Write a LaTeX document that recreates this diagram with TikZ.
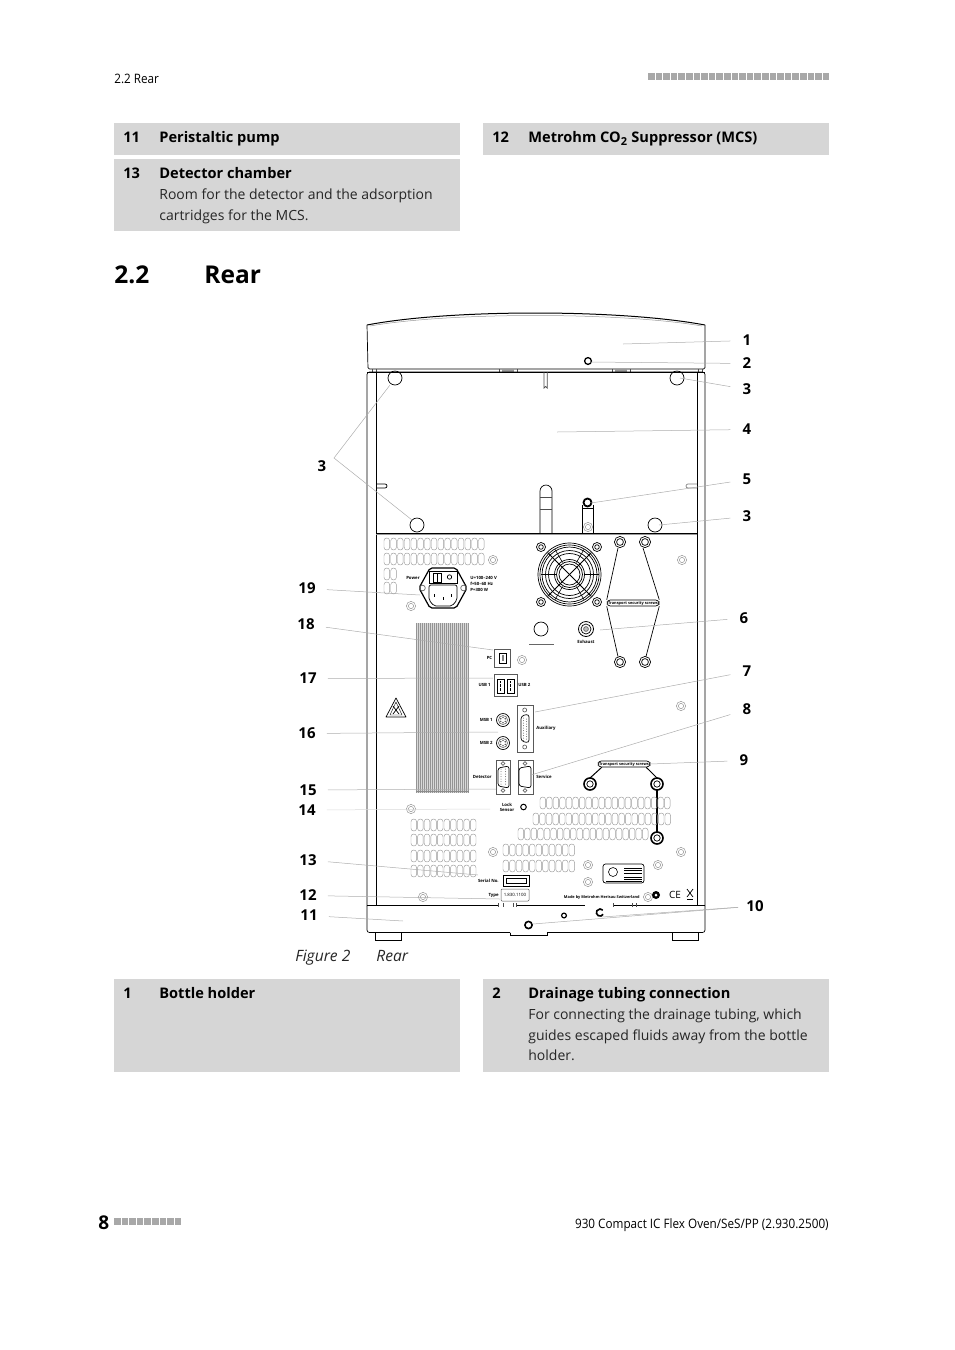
\documentclass[tikz,border=0pt]{standalone}
\usepackage{fontspec}
\setmainfont{Open Sans}
\newfontfamily\narrowfont[FakeStretch=0.9]{Open Sans}
\definecolor{boxgray}{HTML}{D6D6D6}
\definecolor{squaregray}{HTML}{A8A8A8}
\newcommand{\slotrow}[4]{%
    \foreach \i in {1,...,#3}
        \draw[slot] ({#1+(\i-1)*#4},#2) rectangle +(5.6,12);
}
\newcommand{\screwgray}[2]{%
    \draw[graypart] (#1,#2) circle (4.6);
    \draw[graypart] (#1,#2) circle (2.6);
}
\newcommand{\screwdark}[2]{%
    \draw (#1,#2) circle (5.6);
    \draw (#1,#2) circle (3.4);
}
\tikzset{
    body/.style={line width=0.7pt},
    slot/.style={draw=black!40, line width=0.45pt, rounded corners=2.7pt},
    graypart/.style={draw=black!40, line width=0.5pt},
    leader/.style={draw=black!32, line width=0.5pt},
    calloutnum/.style={font=\bfseries\fontsize{15}{18}\selectfont, inner xsep=12pt, inner ysep=1pt},
    boxnum/.style={anchor=base west, inner sep=0pt, font=\bfseries\fontsize{14.6}{18}\selectfont},
    boxtitle/.style={anchor=base west, inner sep=0pt, font=\bfseries\fontsize{14.6}{18}\selectfont},
    boxtext/.style={anchor=base west, inner sep=0pt, font=\fontsize{14}{18}\selectfont, text=black!85},
    tinylabel/.style={inner sep=0pt, font=\bfseries\fontsize{4.3}{5.2}\selectfont},
    pill/.style={draw, line width=0.7pt, rounded corners=3pt, fill=white, inner xsep=1pt, inner ysep=1pt, font=\bfseries\fontsize{3.9}{5.2}\selectfont}
}
\begin{document}
\begin{tikzpicture}[x=1pt,y=-1pt,body]
    \useasboundingbox (0,0) rectangle (954,1350);

    % Page header and footer
    \node[anchor=base west, inner sep=0pt, font=\narrowfont\fontsize{13}{15}\selectfont] (headtext) at (114,83) {2.2 Rear};
    \foreach \i in {0,...,23}
        \fill[squaregray] ({648+7.6*\i},73) rectangle +(6.5,7);
    \node[anchor=base west, inner sep=0pt, font=\bfseries\fontsize{19}{22}\selectfont] (pagenum) at (98,1229) {8};
    \foreach \i in {0,...,8}
        \fill[squaregray] ({114+7.6*\i},1218) rectangle +(6.5,7);
    \node[anchor=base east, inner sep=0pt, font=\narrowfont\fontsize{13}{15}\selectfont] (foottext) at (829,1228) {930 Compact IC Flex Oven/SeS/PP (2.930.2500)};

    % Gray boxes above the section title
    \fill[boxgray] (114,123) rectangle (460,155);
    \fill[boxgray] (483,123) rectangle (829,155);
    \fill[boxgray] (114,159) rectangle (460,231);
    \node[boxnum] (numA) at (123,142) {11};
    \node[boxtitle] (titleA) at (159,142) {Peristaltic pump};
    \node[boxnum] (numB) at (492,142) {12};
    \node[boxtitle] (titleB) at (528,142) {Metrohm CO\textsubscript{\fontsize{11}{11}\selectfont 2} Suppressor (MCS)};
    \node[boxnum] (numC) at (123,178) {13};
    \node[boxtitle] (titleC) at (159,178) {Detector chamber};
    \node[boxtext] (textCa) at (159,199) {Room for the detector and the adsorption};
    \node[boxtext] (textCb) at (159,220) {cartridges for the MCS.};

    % Section title
    \node[anchor=base west, inner sep=0pt, font=\bfseries\fontsize{24.5}{30}\selectfont] (secnum) at (114,283) {2.2};
    \node[anchor=base west, inner sep=0pt, font=\bfseries\fontsize{24.5}{30}\selectfont] (sectitle) at (204,283) {Rear};

    % Bottle holder
    \draw[line width=1pt] (367,325) .. controls (450,309) and (620,309) .. (705,325);
    \draw[black!40, line width=0.5pt] (370,326) .. controls (450,312) and (620,312) .. (702,326);
    \draw[rounded corners=1.5pt] (367,325) -- (368,369) -- (705,369) -- (705,325);
    \draw[line width=1.3pt] (588,361) circle (3.4);

    % Tabs between holder and housing
    \fill[black!40] (502,369) rectangle (514,372);
    \fill[black!40] (615,369) rectangle (627,372);
    \foreach \x in {372,376,499,517,612,630,698,702}
        \draw[black!70, line width=0.4pt] (\x,369) -- (\x,372);

    % Housing
    \draw[rounded corners=2.5pt] (367,906) -- (367,372) -- (705,372) -- (705,906);
    \draw[line width=0.9pt] (367,372) -- (705,372);
    \draw (376,372) -- (376,905);
    \draw (697,372) -- (697,905);
    \draw[line width=1pt] (376,533) -- (697,533);
    \draw[black!40, line width=0.8pt] (376,534.5) -- (697,534.5);

    % Upper panel
    \draw[black!70] (544,372) -- (544,388) arc (180:360:1.6) -- (547.2,372);
    \draw (376,484) -- (385,484) arc (270:450:2) -- (376,488);
    \draw[black!50] (697,484) -- (688,484) arc (270:90:2) -- (697,488);
    \draw (395,378) circle (7);
    \draw (677,378) circle (7);
    \draw (417,525) circle (7);
    \draw (655,525) circle (7);

    % Pillars
    \draw (540,533) -- (540,491) arc (180:360:6) -- (552,533);
    \draw[black!70] (540,497) -- (552,497);
    \draw[black!70] (540,509) -- (552,509);
    \draw (582,533) -- (582,505);
    \draw (593.5,533) -- (593.5,505);
    \draw (582,508) -- (593.5,508);
    \fill[white] (587.5,502.5) circle (4.5);
    \draw[line width=1.8pt] (587.5,502.5) circle (4);
    \screwgray{588}{527}

    % Slots upper left
    \slotrow{384}{538}{15}{6.75}
    \slotrow{384}{553}{15}{6.75}
    \slotrow{384}{568}{2}{6.75}
    \slotrow{384}{582}{2}{6.75}

    % Screws on the panel
    \screwgray{493}{560}
    \screwgray{411}{606}
    \screwgray{682}{560}
    \screwgray{522}{660}
    \screwgray{681}{706}
    \screwgray{493}{852}
    \screwgray{588}{865}
    \screwgray{658}{865}
    \screwgray{681}{852}
    \screwgray{588}{882}
    \screwgray{648}{897}
    \screwgray{423}{897}
    \screwgray{411}{809}

    % Power inlet
    \draw[line width=1.2pt, rounded corners=2pt, fill=white] (430,568) -- (456,568) -- (467,588) -- (456,608) -- (430,608) -- (419,588) -- cycle;
    \draw[fill=white] (429,571) rectangle (457,583);
    \draw (433,573) rectangle (441,582);
    \draw[line width=1pt] (437,573) -- (437,582);
    \draw (449.5,577) circle (2.2);
    \draw[rounded corners=2pt, fill=white] (429,585) -- (457,585) -- (457,600) -- (452,606) -- (434,606) -- (429,600) -- cycle;
    \fill (434,594) rectangle +(1.2,3);
    \fill (442.5,597) rectangle +(1.2,3);
    \fill (451,594) rectangle +(1.2,3);
    \draw[black!60] (422.5,588) circle (2.8);
    \draw[black!60] (463.5,588) circle (2.8);
    \node[tinylabel] (powerlabel) at (413,578) {Power};
    \node[tinylabel, anchor=west] (powerU) at (470,578) {U=100--240 V};
    \node[tinylabel, anchor=west] (powerF) at (470,584) {f=50--60 Hz};
    \node[tinylabel, anchor=west] (powerP) at (470,590) {P=300 W};

    % Fan
    \foreach \r in {31.5,29.5,27.5,24,21,15,13,10.5}
        \draw[line width=0.7pt] (569.5,574.5) circle (\r);
    \foreach \a in {45,135,225,315}
        \draw[line width=1pt] (569.5,574.5) -- +(\a:31);
    \foreach \a in {0,60,...,300}
        \draw[line width=0.6pt] (569.5,574.5) ++(\a:14) -- +(\a:15);
    \foreach \x/\y in {541/547,597/547,541/602,597/602} {
        \fill[white] (\x,\y) circle (5);
        \draw (\x,\y) circle (4.5);
        \draw (\x,\y) circle (2.3);
    }

    % Transport screws upper
    \screwdark{620}{542}
    \screwdark{645}{542}
    \screwdark{620}{662}
    \screwdark{645}{662}
    \node[pill] (transportA) at (633,603) {Transport security screws};
    \coordinate (upLa) at (618,548);
    \coordinate (upRa) at (643,548);
    \coordinate (dnLa) at (618,656.5);
    \coordinate (dnRa) at (646,656.5);
    \draw (transportA.north west) -- (upLa);
    \draw (transportA.north east) -- (upRa);
    \draw (transportA.south west) -- (dnLa);
    \draw (transportA.south east) -- (dnRa);

    % Exhaust and blind plate
    \draw (541,629) circle (7);
    \draw[black!60] (529,644) -- (554,644);
    \draw[line width=0.8pt] (586,629) circle (7.5);
    \draw (586,629) circle (5);
    \draw[black!60, fill=black!25] (586,629) circle (2.4);
    \node[tinylabel] (exhaustlabel) at (586,641.5) {Exhaust};

    % Heat sink
    \fill[black!15] (416,623) rectangle (469,793);
    \foreach \x in {416,418,...,468}
        \draw[black!42, line width=0.5pt] (\x,623) -- (\x,793);
    \draw[black!45, line width=0.5pt] (416,791) -- (469,791);

    % Warning sign
    \draw[line join=round] (396,698) -- (386,717) -- (406,717) -- cycle;
    \draw[line width=0.4pt] (396,702) -- (390,715) -- (402,715) -- cycle;
    \draw[line width=0.7pt] (393,706) -- (399,714);
    \draw[line width=0.7pt] (399,706) -- (393,714);

    % PC port
    \draw[black!65] (494,649) rectangle (510,667);
    \draw (499,653) rectangle (506,663);
    \fill[black!50] (501.5,655) rectangle (503.5,661);
    \node[tinylabel] (pclabel) at (489.5,658) {PC};

    % USB ports
    \draw[black!65] (494,674) rectangle (517,696);
    \foreach \x in {497,507} {
        \draw (\x,679) rectangle +(7,14);
        \draw[line width=0.3pt, densely dotted] (\x+3.5,681) -- +(0,10);
    }
    \node[tinylabel, anchor=east] (usbA) at (491,685) {USB 1};
    \node[tinylabel, anchor=west] (usbB) at (518,685) {USB 2};

    % MSB sockets
    \foreach \y/\n in {720/1,743/2} {
        \draw (503,\y) circle (6.5);
        \draw[black!55] (503,\y) circle (4.5);
        \foreach \a in {30,90,...,330}
            \fill[black!70] (503,\y) ++(\a:2.6) circle (0.8);
        \node[tinylabel, anchor=east] (msb\n) at (493,\y) {MSB \n};
    }

    % Auxiliary port
    \draw[black!65] (517,705) rectangle (533,752);
    \draw[black!60] (524.7,710) circle (2);
    \draw[black!60] (524.7,747) circle (2);
    \draw[rounded corners=3pt] (521,716) -- (529,714) -- (529,743) -- (521,741) -- cycle;
    \foreach \y in {718,720.5,...,741}
        \fill[black!60] (523.5,\y) circle (0.5);
    \foreach \y in {719,721.5,...,740}
        \fill[black!60] (526.5,\y) circle (0.5);
    \node[tinylabel, anchor=west] (auxlabel) at (536,728) {Auxiliary};

    % Detector port
    \draw[black!65] (496,760) rectangle (510,794);
    \draw[black!60] (503,763.5) circle (1.8);
    \draw[black!60] (503,790.5) circle (1.8);
    \draw[rounded corners=2.5pt] (498,768) -- (509,766) -- (509,788) -- (498,786) -- cycle;
    \foreach \y in {769,771.5,...,785}
        \fill[black!60] (501,\y) circle (0.5);
    \foreach \y in {769,771.5,...,785}
        \fill[black!60] (505.5,\y) circle (0.5);
    \node[tinylabel, anchor=east] (detlabel) at (492,777) {Detector};

    % Service port
    \draw[black!65] (518,760) rectangle (533,794);
    \draw[black!60] (525,763.5) circle (1.8);
    \draw[black!60] (525,790.5) circle (1.8);
    \draw[rounded corners=2.5pt] (519,768) -- (531,766) -- (531,788) -- (519,786) -- cycle;
    \node[tinylabel, anchor=west] (servlabel) at (536,777) {Service};

    % Transport screws lower
    \foreach \x/\y in {590/784,657/784,657/838} {
        \draw[line width=1.6pt] (\x,\y) circle (6);
        \draw[line width=0.7pt] (\x,\y) circle (3.2);
    }
    \node[pill] (transportB) at (624,764) {Transport security screws};
    \coordinate (lowL) at (590,778);
    \coordinate (lowR) at (657,778);
    \draw[line width=1pt] (transportB.south west) ++(4,0) -- (lowL);
    \draw[line width=1pt] (transportB.south east) ++(-4,0) -- (lowR);
    \draw[line width=1.4pt] (657,790) -- (657,832);

    % Lock sensor
    \node[tinylabel, align=center] (locklabel) at (507,807) {Lock\\Sensor};
    \draw[line width=1pt] (523.5,807) circle (2.8);

    % Slots lower
    \slotrow{411}{819}{10}{6.6}
    \slotrow{411}{834}{10}{6.6}
    \slotrow{411}{850}{10}{6.6}
    \slotrow{411}{865}{10}{6.6}
    \slotrow{540}{797}{20}{6.55}
    \slotrow{533}{813}{21}{6.6}
    \slotrow{518}{828}{20}{6.55}
    \slotrow{503}{844}{11}{6.6}
    \slotrow{503}{860}{11}{6.6}

    % Serial and type plates
    \draw (503,875) rectangle (529,886);
    \draw[line width=0.4pt] (506,878) rectangle (526,883);
    \node[tinylabel, anchor=east] (seriallabel) at (499,881) {Serial No.};
    \node[draw=black!65, line width=0.5pt, rounded corners=1pt, minimum width=28pt, minimum height=12pt, inner sep=0pt, font=\fontsize{4.4}{5.2}\selectfont] (typeplate) at (515,895) {1.830.1100};
    \node[tinylabel, anchor=east] (typelabel) at (499,895) {Type};

    % Approval label
    \draw[rounded corners=2.5pt] (603,864) rectangle (644,883);
    \draw[line width=0.6pt] (613,872) circle (4.5);
    \foreach \y in {868,870.5,873,877,879.5}
        \draw[line width=0.6pt] (624,\y) -- (642,\y);
    \draw[line width=0.6pt] (606,881) -- (642,881);

    % Maker line and marks
    \node[tinylabel, anchor=east, font=\bfseries\fontsize{3.9}{5.2}\selectfont] (makerlabel) at (640,897) {Made by Metrohm Herisau Switzerland};
    \fill (656,895) circle (4);
    \fill[white] (656,895) circle (1.5);
    \node[inner sep=0pt, font=\fontsize{10}{11}\selectfont] (celabel) at (675,895) {CE};
    \draw[line width=0.7pt] (687,889) -- (693,897);
    \draw[line width=0.7pt] (693,889) -- (687,897);
    \draw[line width=0.8pt] (687,899) -- (693,899);

    % Base
    \draw[rounded corners=2.5pt] (367,906) -- (367,932.5) -- (510,932.5);
    \draw (510,932.5) -- (510,935) -- (547,935) -- (547,932.5);
    \draw[rounded corners=2.5pt] (547,932.5) -- (705,932.5) -- (705,906);
    \draw[line width=0.9pt] (367,905) -- (498,905);
    \draw[line width=0.9pt] (516,905) -- (585,905);
    \draw[line width=0.9pt] (613,905) -- (705,905);
    \foreach \x in {498,503,513,516,613,632,636}
        \draw[black!70, line width=0.4pt] (\x,903) -- (\x,907);
    \draw (375,932.5) -- (375,940.5) -- (401,940.5) -- (401,932.5);
    \draw (672,932.5) -- (672,940.5) -- (698,940.5) -- (698,932.5);
    \draw[line width=1.6pt] (528.5,925) circle (3.6);
    \draw[line width=1.2pt] (564,915.5) circle (2.4);
    \draw[line width=1.6pt] (600,912.5) ++(30:3.6) arc (30:320:3.6);

    % Callouts on the right
    \node[calloutnum] (nA) at (747,340.5) {1};
    \node[calloutnum] (nB) at (747,363.5) {2};
    \node[calloutnum] (nC) at (747,389.5) {3};
    \node[calloutnum] (nD) at (747,429.5) {4};
    \node[calloutnum] (nE) at (747,479.5) {5};
    \node[calloutnum] (nF) at (747,516.5) {3};
    \node[calloutnum] (nG) at (744,618) {6};
    \node[calloutnum] (nH) at (747,671.5) {7};
    \node[calloutnum] (nI) at (747,709.5) {8};
    \node[calloutnum] (nJ) at (744,760.5) {9};
    \node[calloutnum, inner xsep=8pt] (nK) at (755,906) {10};
    \coordinate (tA) at (623,344);
    \coordinate (tB) at (590,362);
    \coordinate (tC) at (680,378);
    \coordinate (tD) at (557,432);
    \coordinate (tE) at (591,503);
    \coordinate (tF) at (659,525);
    \coordinate (tG) at (600,630);
    \coordinate (tH) at (535,712);
    \coordinate (tI) at (531,775);
    \coordinate (tK) at (533,924);
    \coordinate (tL) at (602,917);
    \foreach \n/\t in {nA/tA,nB/tB,nC/tC,nD/tD,nE/tE,nF/tF,nG/tG,nH/tH,nI/tI,nK/tK,nK/tL}
        \draw[leader] (\n) -- (\t);
    \draw[leader] (nJ) -- (transportB.east);

    % Callouts on the left
    \node[calloutnum] (nAA) at (322,466) {3};
    \node[calloutnum, inner xsep=11pt] (nAB) at (307,588.5) {19};
    \node[calloutnum, inner xsep=11pt] (nAC) at (306,624.5) {18};
    \node[calloutnum, inner xsep=11pt] (nAD) at (308,678.5) {17};
    \node[calloutnum, inner xsep=11pt] (nAE) at (307,733.5) {16};
    \node[calloutnum, inner xsep=11pt] (nAF) at (308,790) {15};
    \node[calloutnum, inner xsep=11pt] (nAG) at (307,810) {14};
    \node[calloutnum, inner xsep=11pt] (nAH) at (308,860) {13};
    \node[calloutnum, inner xsep=11pt] (nAI) at (308,895.5) {12};
    \node[calloutnum, inner xsep=11pt] (nAJ) at (309,915.5) {11};
    \coordinate (tAk) at (334,458);
    \coordinate (tAa) at (390,385);
    \coordinate (tAb) at (412,520);
    \coordinate (tAB) at (420,595);
    \coordinate (tAC) at (493,650);
    \coordinate (tAD) at (493,678);
    \coordinate (tAE) at (498,732);
    \coordinate (tAF) at (496,789);
    \coordinate (tAH) at (478,875);
    \coordinate (tAI) at (500,899);
    \coordinate (tAJ) at (403,921);
    \draw[leader] (tAa) -- (tAk) -- (tAb);
    \foreach \n/\t in {nAB/tAB,nAC/tAC,nAD/tAD,nAE/tAE,nAF/tAF,nAH/tAH,nAI/tAI,nAJ/tAJ}
        \draw[leader] (\n) -- (\t);
    \coordinate (tAG) at (490,809);
    \draw[draw=black!15, line width=0.5pt] (nAG) -- (tAG);

    % Figure caption
    \node[anchor=base west, inner sep=0pt, font=\itshape\fontsize{15.6}{18}\selectfont, text=black!85] (figlabel) at (295,961) {Figure 2};
    \node[anchor=base west, inner sep=0pt, font=\itshape\fontsize{15.6}{18}\selectfont, text=black!85] (figtitle) at (376,961) {Rear};

    % Gray boxes below the figure
    \fill[boxgray] (114,979) rectangle (460,1072);
    \fill[boxgray] (483,979) rectangle (829,1072);
    \node[boxnum] (numD) at (123,998) {1};
    \node[boxtitle] (titleD) at (159,998) {Bottle holder};
    \node[boxnum] (numE) at (492,998) {2};
    \node[boxtitle] (titleE) at (528,998) {Drainage tubing connection};
    \node[boxtext] (textEa) at (528,1019) {For connecting the drainage tubing, which};
    \node[boxtext] (textEb) at (528,1040) {guides escaped fluids away from the bottle};
    \node[boxtext] (textEc) at (528,1060) {holder.};
\end{tikzpicture}
\end{document}
